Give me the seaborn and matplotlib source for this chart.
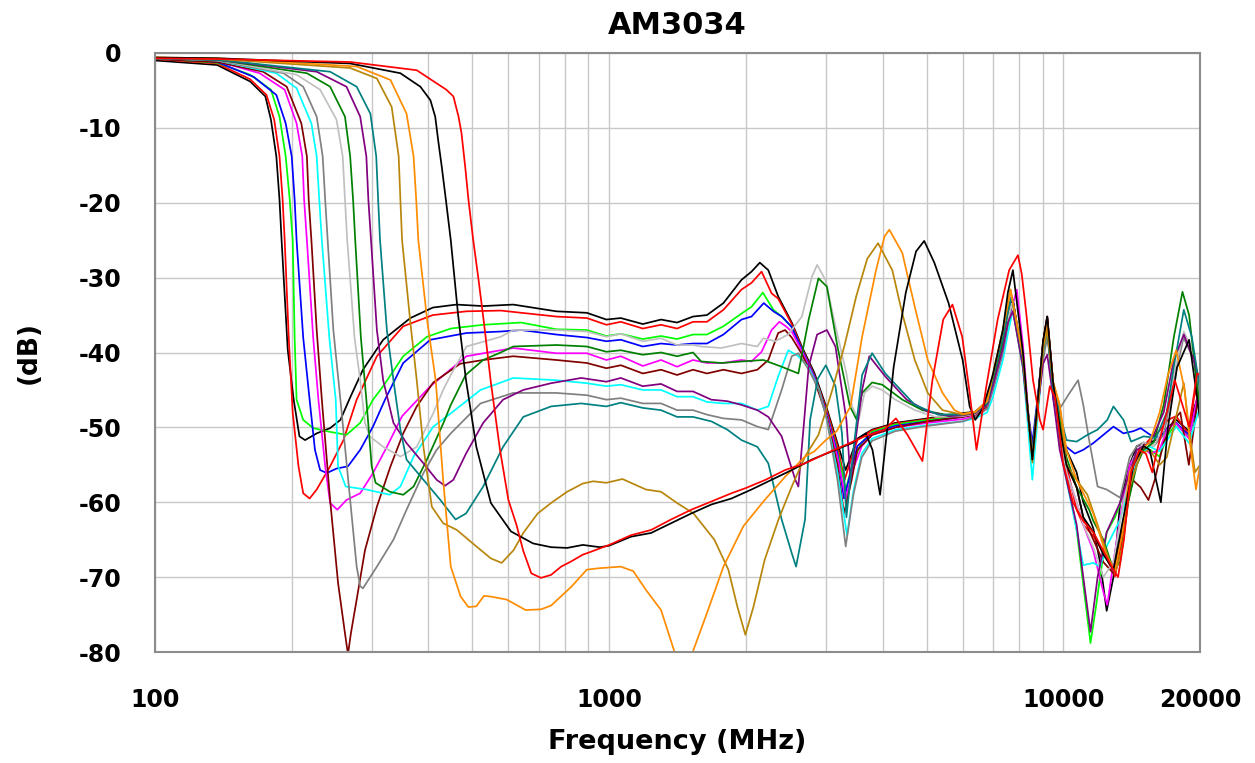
import matplotlib
matplotlib.use("Agg")
import matplotlib.pyplot as plt
import pandas as pd
import seaborn as sns
from matplotlib.ticker import FixedLocator, FixedFormatter, NullFormatter

# ---------------- text / ticks ----------------
title = "AM3034"
x_label = "Frequency (MHz)"
y_label = "(dB)"
x_major_ticks = [100, 1000, 10000, 20000]
x_major_labels = ["100", "1000", "10000", "20000"]
x_minor_ticks = [200, 300, 400, 500, 600, 700, 800, 900,
                 2000, 3000, 4000, 5000, 6000, 7000, 8000, 9000]
y_ticks = [0, -10, -20, -30, -40, -50, -60, -70, -80]
y_tick_labels = ["0", "-10", "-20", "-30", "-40", "-50", "-60", "-70", "-80"]

curve_names = ["k190", "r193", "lime201", "blue205", "mag215", "maroon221", "cyan233",
               "gray240", "silver265", "green276", "purple299", "teal313",
               "gold350", "orange380", "k446", "r502"]
curve_colors = ["#000000", "#ff0000", "#00ff00", "#0000ff", "#ff00ff", "#800000", "#00ffff",
                "#808080", "#c0c0c0", "#008000", "#800080", "#008080",
                "#b8860b", "#ff8c00", "#000000", "#ff0000"]

# ---------------- series: (MHz, dB) ----------------
k190 = [(100,-1.0),(137,-1.6),(162,-3.8),(175,-5.8),(180,-8.9),(185,-13.8),(188,-19.6),(190,-25),
        (196,-39.6),(202,-46.3),(208,-51.2),(214,-51.7),(227,-50.8),(243,-50.1),(256,-49),(269,-46),
        (287,-42.3),(318,-38.3),(365,-35.4),(409,-34.0),(461,-33.6),(528,-33.8),(615,-33.6),(765,-34.5),
        (893,-34.7),(986,-35.6),(1061,-35.4),(1186,-36.2),(1301,-35.6),(1411,-36.0),(1530,-35.2),
        (1642,-35.0),(1785,-33.4),(1956,-30.3),(2058,-29.2),(2147,-28.0),(2241,-29.0),(2356,-32.5),
        (2524,-36.0),(2656,-39.2),(2830,-42.7),(3016,-47.5),(3182,-52.1),(3318,-55.7),(3520,-51.5),
        (3794,-50.3),(4270,-49.4),(5030,-48.8),(6003,-48.1),(6400,-47.9),(6800,-46.5),(6995,-44),
        (7361,-39),(7550,-35.5),(7746,-33.0),(8151,-41.4),(8362,-48.1),(8548,-54.3),(8800,-45.9),
        (9025,-38.7),(9218,-35.2),(9497,-44),(9820,-50),(10160,-53),(10700,-56),(11066,-60),
        (11645,-63.5),(12050,-68),(12460,-74.5),(12895,-70),(13345,-60),(14000,-55),(14520,-52.5),
        (15540,-52),(16280,-51.5),(17000,-50),(17730,-49),(18925,-50.5),(19400,-47.5),(20000,-45)]

r193 = [(100,-0.8),(137,-1.4),(162,-3.5),(176,-5.6),(183,-8.9),(188,-13.8),(191,-19.6),(193,-25),
        (197,-38),(201,-48),(207,-55.2),(212,-58.8),(219,-59.5),(227,-58.3),(243,-55.2),(260,-51.7),
        (278,-46.3),(308,-40.5),(352,-36.5),(409,-35),(485,-34.5),(577,-34.4),(765,-35.2),(893,-35.4),
        (986,-36.3),(1061,-35.9),(1186,-36.8),(1301,-36.3),(1411,-36.8),(1530,-35.9),(1642,-35.9),
        (1785,-34.3),(1956,-31.6),(2058,-30.7),(2166,-29.2),(2279,-32.1),(2356,-32.8),(2524,-36.2),
        (2656,-39.4),(2830,-43),(3016,-47.8),(3182,-52.5),(3300,-57),(3420,-54),(3520,-51.7),
        (3794,-50.4),(4270,-49.5),(5030,-48.9),(6003,-48.3),(6400,-48),(6800,-46.7),(6995,-44.2),
        (7361,-39.2),(7550,-35.5),(7746,-33.2),(8151,-41.5),(8362,-48.5),(8548,-53.5),(8800,-46),
        (9025,-39),(9218,-35.5),(9497,-44),(9820,-50),(10160,-55),(10700,-61),(11066,-63),
        (11645,-64.5),(12050,-66),(12460,-67.5),(13000,-69.9),(13569,-64),(14000,-58),(14520,-54),
        (15025,-52.5),(15540,-51.5),(16280,-50.5),(17000,-49),(17730,-48.5),(18425,-50),(18925,-51),
        (19400,-46),(20000,-43.5)]

lime201 = [(100,-0.7),(137,-1.3),(162,-2.9),(180,-4.9),(188,-8.5),(194,-13.8),(198,-19.6),(201,-25),
           (203,-38),(205,-46.3),(212,-49),(223,-50.1),(243,-50.6),(264,-51),(283,-49.4),(302,-46.3),
           (318,-44.5),(352,-40.5),(397,-37.9),(448,-36.8),(528,-36.3),(640,-36),(765,-36.9),(893,-37),
           (986,-37.8),(1061,-37.5),(1186,-38.2),(1301,-37.8),(1411,-38.2),(1530,-37.6),(1642,-37.6),
           (1785,-36.5),(1956,-34.8),(2058,-33.9),(2180,-32.0),(2300,-34.3),(2400,-35.2),(2524,-36.6),
           (2656,-39.6),(2830,-43.2),(3016,-48.2),(3182,-53.2),(3318,-58.3),(3450,-54.5),(3600,-52),
           (3794,-50.6),(4270,-49.6),(5030,-49),(6003,-48.5),(6400,-48.2),(6800,-47.2),(6995,-45),
           (7361,-40),(7550,-36.5),(7746,-34.1),(8151,-42),(8362,-49),(8548,-54),(8800,-47),(9025,-40),
           (9218,-36.7),(9497,-45),(9820,-51),(10160,-56),(10700,-63.7),(11066,-71),(11480,-78.8),
           (11800,-74),(12050,-70),(12460,-64),(13000,-62),(13569,-59),(14000,-56),(14520,-53.5),
           (15540,-53),(16280,-53.9),(17000,-51),(17730,-49.5),(18925,-51.4),(20000,-45.5)]

blue205 = [(100,-0.7),(137,-1.2),(165,-3.2),(185,-5.6),(194,-9.4),(200,-13.8),(203,-19.6),(205,-25),
           (212,-38),(219,-46.3),(225,-53),(231,-55.7),(239,-56.1),(251,-55.5),(266,-55.2),(283,-53),
           (302,-49.9),(321,-46.3),(352,-41.4),(404,-38.3),(485,-37.4),(577,-37.2),(640,-37),(765,-37.6),
           (893,-38),(986,-38.5),(1061,-38.3),(1186,-39.2),(1301,-38.8),(1411,-39),(1530,-38.8),
           (1642,-38.8),(1785,-37.6),(1956,-35.6),(2058,-35.2),(2190,-33.4),(2300,-34.5),(2400,-35.2),
           (2524,-36.6),(2656,-39.6),(2830,-43.2),(3016,-48.2),(3182,-53.5),(3290,-59.5),(3420,-55.5),
           (3520,-52.5),(3794,-50.8),(4270,-49.8),(5030,-49.2),(6003,-48.6),(6400,-48.2),(6800,-47),
           (6995,-44.5),(7361,-39.5),(7550,-35.5),(7746,-33),(8151,-41.5),(8362,-48),(8548,-52.1),
           (8800,-45.5),(9025,-39),(9218,-36),(9497,-46),(9820,-51),(10160,-52.6),(10600,-53.5),
           (11066,-53),(11645,-52.1),(12254,-51),(12895,-49.9),(13569,-50.8),(14279,-50.5),
           (14800,-50.1),(15540,-51),(16280,-51.4),(17000,-50),(17730,-49.4),(18500,-50.5),
           (18925,-51),(20000,-45.4)]

mag215 = [(100,-0.7),(137,-1.1),(170,-2.7),(193,-4.9),(205,-9.4),(211,-13.8),(213,-19.6),(216,-25),
          (223,-38),(229,-46.3),(237,-55.2),(243,-60.1),(252,-61),(264,-59.7),(283,-58.8),(302,-56.1),
          (324,-52.6),(350,-48.5),(404,-44.5),(485,-40.5),(577,-39.7),(615,-39.4),(765,-40.1),
          (893,-40.1),(986,-41),(1061,-40.5),(1186,-41.8),(1301,-41),(1411,-41.9),(1530,-41),
          (1642,-41.4),(1785,-41.4),(1956,-41),(2058,-41.2),(2166,-39.9),(2279,-37),(2370,-35.9),
          (2450,-36.5),(2524,-37.2),(2656,-39.8),(2830,-43.4),(3016,-48.4),(3182,-54),(3318,-59.5),
          (3450,-55.5),(3600,-52.5),(3794,-51),(4270,-50),(5030,-49.4),(6003,-48.9),(6400,-48.5),
          (6800,-47.5),(6995,-45),(7361,-40),(7550,-36),(7900,-31.6),(8151,-39),(8362,-47.5),
          (8548,-53.5),(8800,-46),(9025,-39),(9218,-36),(9497,-45),(9820,-50),(10160,-56),(10700,-60),
          (11066,-63),(11645,-66.5),(12254,-72),(12500,-73.7),(12895,-68),(13345,-62),(14000,-55),
          (14800,-52.5),(15540,-53.5),(16280,-53),(17000,-50),(17730,-49.5),(18925,-51.5),(20000,-44)]

maroon221 = [(100,-0.8),(137,-1.2),(173,-2.5),(195,-4.5),(210,-9.4),(216,-13.8),(218,-19.6),(221,-25),
             (227,-37),(233,-46.3),(243,-59.7),(253,-70.8),(262,-77.5),(266,-80.3),(270,-77.5),
             (278,-73),(290,-66.4),(308,-60.6),(330,-55.2),(352,-50.8),(377,-47.2),(410,-44),
             (470,-41.5),(528,-41),(615,-40.5),(765,-41),(893,-41.4),(986,-42.1),(1061,-41.7),
             (1186,-42.8),(1301,-42.3),(1411,-43),(1530,-42.3),(1642,-42.8),(1785,-42.3),(1956,-42.8),
             (2120,-42.3),(2241,-41),(2356,-37.4),(2440,-37),(2524,-38),(2656,-40.2),(2830,-43.6),
             (3016,-48.6),(3182,-55),(3290,-61.5),(3420,-57),(3520,-53),(3794,-51),(4270,-50),
             (5030,-49.2),(6003,-48.6),(6400,-48.3),(6800,-47.2),(6995,-44.5),(7361,-39.5),(7550,-35.5),
             (7746,-33.2),(8151,-41),(8362,-48),(8548,-54),(8800,-46),(9025,-38.5),(9218,-35.2),
             (9497,-44),(9820,-50),(10160,-55),(10700,-58),(11066,-62),(11645,-65),(12254,-68),
             (12900,-69.5),(13569,-63),(14200,-57),(14800,-58),(15400,-59.7),(15900,-57),(16638,-52),
             (17508,-49),(18100,-48),(18900,-55),(19400,-50),(20000,-44)]

cyan233 = [(100,-0.7),(137,-1.0),(185,-2.7),(205,-4.7),(221,-9.4),(227,-13.8),(230,-19.6),(233,-25),
           (242,-38),(250,-46.3),(253,-55.2),(263,-57.9),(292,-58.3),(329,-59),(347,-57.9),(371,-53.9),
           (410,-49.9),(440,-48.5),(521,-45),(615,-43.4),(765,-43.7),(893,-44.1),(986,-44.5),
           (1061,-44.3),(1186,-45),(1301,-45),(1411,-45.9),(1530,-45.9),(1642,-46.6),(1785,-46.8),
           (1956,-46.8),(2120,-47.7),(2241,-47.2),(2356,-43.2),(2480,-39.7),(2610,-40.5),(2750,-42),
           (2900,-45),(3016,-49),(3182,-56),(3340,-64.4),(3450,-58.5),(3600,-53.5),(3794,-51.5),
           (4270,-50.3),(5030,-49.7),(6003,-49.2),(6400,-48.8),(6800,-48),(6995,-46),(7361,-41),
           (7550,-37.5),(7746,-34.3),(8151,-42),(8362,-50),(8548,-57),(8800,-48),(9025,-40.5),
           (9218,-36.5),(9497,-45),(9820,-52),(10160,-57),(10700,-63.7),(11066,-68.4),(11645,-68.1),
           (12050,-68.6),(12460,-65.9),(13345,-62.3),(14520,-53.9),(15540,-52.6),(16280,-53.2),
           (17730,-49.9),(18925,-52.1),(20000,-47.2)]

gray240 = [(100,-0.7),(137,-1.0),(192,-2.7),(212,-4.5),(227,-8.5),(234,-13.8),(237,-19.6),(240,-25),
           (247,-37),(256,-46.3),(269,-59.7),(278,-68.6),(283,-71.2),(287,-71.5),(308,-68.6),(335,-65),
           (358,-61),(390,-56.1),(417,-53),(448,-50.8),(521,-46.8),(615,-45.4),(765,-45.4),(893,-45.7),
           (986,-46.3),(1061,-46.1),(1186,-46.8),(1301,-46.8),(1411,-47.7),(1530,-47.7),(1642,-48.3),
           (1785,-48.8),(1956,-49),(2120,-49.9),(2241,-50.3),(2398,-45),(2524,-40.5),(2610,-40.1),
           (2750,-42.3),(2900,-45),(3016,-49),(3182,-57),(3318,-65.9),(3450,-59),(3600,-54),
           (3794,-51.8),(4270,-50.5),(5030,-49.8),(6003,-49.2),(6400,-48.6),(6800,-47.5),(6995,-45),
           (7361,-40),(7550,-36),(7700,-33.5),(8151,-41.5),(8362,-48.5),(8548,-54),(8800,-47),
           (9025,-41),(9218,-38),(9497,-44),(9820,-47.5),(10300,-45.5),(10780,-43.7),(11066,-47),
           (11400,-51.7),(11900,-57.9),(12460,-58.3),(13345,-59.4),(14000,-54),(14520,-52.5),
           (15025,-52),(15811,-52.5),(16638,-51),(17508,-44),(18400,-38),(19386,-41),(20000,-46)]

silver265 = [(100,-0.7),(137,-0.9),(205,-2.9),(231,-4.9),(251,-8.9),(259,-13.8),(262,-19.6),(265,-25),
             (275,-38),(283,-43.7),(290,-49.4),(297,-51.2),(318,-52.6),(347,-53.9),(377,-52.6),
             (410,-48.1),(431,-45),(448,-43),(485,-39.2),(577,-37.9),(615,-37),(765,-37),(893,-37.2),
             (986,-37.9),(1061,-37.5),(1186,-38.5),(1301,-38.1),(1411,-39),(1530,-39),(1595,-39.2),
             (1767,-39.4),(1956,-38.8),(2120,-39.2),(2185,-38.1),(2320,-38.5),(2480,-37.6),(2656,-35.2),
             (2795,-29.9),(2870,-28.3),(2995,-30.3),(3150,-36.5),(3330,-42.8),(3427,-47.2),(3545,-49),
             (3650,-45.4),(3794,-44.5),(3993,-45),(4270,-46.3),(4710,-47.7),(5230,-48.6),(6003,-48.5),
             (6400,-48.2),(6800,-47),(6995,-44.5),(7361,-39.5),(7550,-35.5),(7700,-33.5),(8151,-41),
             (8362,-48.5),(8548,-54),(8800,-46),(9025,-39),(9218,-37),(9497,-44),(9820,-50),
             (10160,-56),(10700,-60),(11066,-63),(11645,-66),(12250,-70),(12895,-68),(13569,-60),
             (14279,-54),(15025,-52),(15811,-52.5),(16638,-50),(17508,-43),(18423,-37.2),(19386,-40),
             (20000,-45)]

green276 = [(100,-0.7),(137,-0.9),(216,-2.7),(243,-4.5),(262,-8.5),(269,-13.8),(273,-19.6),(276,-25),
            (284,-38),(292,-46.3),(300,-55.2),(306,-57.4),(329,-58.6),(352,-59),(371,-57.9),
            (397,-54.3),(431,-49.5),(448,-47),(483,-43),(528,-41),(577,-40),(615,-39.2),(765,-39),
            (893,-39.2),(986,-39.9),(1061,-39.7),(1186,-40.3),(1301,-40),(1411,-40.5),(1530,-40),
            (1595,-41.2),(1767,-41.4),(1956,-41.2),(2185,-41),(2398,-41.9),(2610,-42.8),(2750,-35.6),
            (2890,-30.1),(3016,-31.2),(3182,-39.2),(3390,-47.2),(3510,-49),(3606,-45.4),(3794,-44),
            (3993,-44.3),(4421,-46.3),(4896,-47.7),(5500,-48.3),(6003,-48.2),(6400,-48),(6800,-46.8),
            (6995,-44),(7361,-38.5),(7550,-34.5),(7700,-32.5),(8151,-41),(8362,-48),(8548,-53.5),
            (8800,-46),(9025,-39.5),(9218,-36.7),(9497,-45),(9820,-49),(10160,-54),(10700,-58),
            (11400,-61),(11645,-62.5),(12254,-65),(12895,-69),(13345,-68),(13900,-60),(14520,-55),
            (15025,-53),(15811,-52),(16638,-47),(17508,-38),(18300,-31.9),(18925,-35),(19500,-42),
            (20000,-48)]

purple299 = [(100,-0.7),(137,-0.9),(227,-2.5),(264,-4.5),(283,-8.5),(292,-13.8),(295,-19.6),(299,-25),
             (308,-37),(318,-43.7),(335,-49.4),(358,-52.1),(390,-54.8),(417,-57),(435,-57.8),(454,-57),
             (484,-53.5),(528,-49.4),(584,-46.3),(647,-45),(745,-44.1),(868,-43.4),(986,-43.9),
             (1061,-43.4),(1186,-44.5),(1301,-44.2),(1411,-45.2),(1530,-45.2),(1679,-46.3),(1820,-46.5),
             (1956,-47),(2120,-47.7),(2241,-48.6),(2398,-51.2),(2570,-57),(2610,-57.9),(2680,-50),
             (2750,-41.9),(2870,-37.6),(3016,-37),(3150,-39.2),(3330,-49),(3400,-57),(3500,-51),
             (3606,-45),(3740,-40.5),(4056,-43.2),(4520,-46.3),(5030,-47.9),(5600,-48.5),(6003,-48.4),
             (6400,-48.1),(6800,-47),(6995,-44.5),(7361,-39.5),(7550,-36),(7746,-34.5),(8151,-42),
             (8362,-48.5),(8548,-53.5),(8800,-47),(9025,-41.5),(9218,-40.3),(9497,-46),(9820,-53),
             (10700,-63),(11066,-70),(11480,-77.3),(11900,-70),(12460,-64),(13345,-60),(14000,-56),
             (14520,-53),(15540,-52),(16638,-48),(17508,-41),(18423,-37.6),(19386,-41),(20000,-44)]

teal313 = [(100,-0.7),(137,-0.9),(243,-2.5),(278,-4.5),(298,-8.1),(307,-13.8),(310,-19.6),(313,-25),
           (324,-37),(335,-43.7),(347,-50.3),(358,-54.3),(390,-57),(425,-59.7),(459,-62.3),(484,-61.5),
           (528,-57.9),(584,-52.6),(647,-48.6),(745,-47.2),(868,-46.8),(986,-47.2),(1061,-46.7),
           (1186,-47.4),(1301,-47.7),(1411,-48.6),(1530,-48.6),(1679,-49.2),(1820,-50.3),(1956,-51.7),
           (2120,-52.6),(2241,-54.8),(2398,-62.3),(2524,-66.8),(2580,-68.6),(2700,-62.3),(2770,-49),
           (2880,-43.5),(3000,-41.7),(3150,-44.5),(3256,-50.8),(3330,-62),(3450,-53),(3606,-43),
           (3794,-40.1),(4056,-42.8),(4710,-47),(5300,-48.3),(6003,-48.3),(6400,-48),(6800,-46.8),
           (6995,-43.5),(7361,-38),(7550,-34.5),(7700,-32.5),(8151,-41),(8362,-48),(8548,-53.5),
           (8800,-46),(9025,-39.5),(9218,-37),(9497,-45),(9820,-48.1),(10160,-51.7),(10700,-51.9),
           (11300,-51),(11900,-50.3),(12500,-49),(12895,-47.2),(13569,-49),(14100,-51.9),(15025,-51.2),
           (16000,-51.4),(16900,-48),(17500,-42),(18423,-34.3),(19200,-38),(20000,-45)]

gold350 = [(100,-0.6),(137,-0.8),(269,-2.0),(308,-3.4),(332,-7.2),(344,-13.8),(347,-19.6),(350,-25),
           (365,-36),(377,-43.7),(390,-52.6),(407,-60.6),(431,-62.8),(462,-63.7),(510,-65.9),
           (549,-67.5),(580,-68.1),(616,-66.4),(647,-64.1),(696,-61.5),(745,-60.1),(808,-58.6),
           (875,-57.5),(922,-57.2),(986,-57.4),(1070,-56.9),(1145,-57.7),(1205,-58.3),(1301,-58.6),
           (1411,-60.1),(1534,-61.5),(1705,-65),(1830,-69),(1915,-73.9),(1995,-77.7),(2080,-73.9),
           (2200,-67.7),(2360,-62.3),(2524,-57.9),(2700,-53.9),(2890,-51),(3100,-45),(3300,-39),
           (3500,-32.5),(3700,-27.5),(3910,-25.4),(4202,-29),(4421,-34.8),(4710,-41),(5030,-45.4),
           (5421,-47.7),(6003,-48.3),(6400,-48),(6800,-46.5),(6995,-43),(7361,-37),(7550,-33.5),
           (7650,-31.6),(8151,-40.5),(8362,-48),(8548,-54.7),(8800,-47),(9025,-39.5),(9218,-37),
           (9497,-44),(9820,-47),(10160,-55),(10700,-57),(11300,-59),(11900,-63),(12500,-67),
           (13000,-69.5),(13500,-66),(14000,-58),(14800,-53.5),(15500,-53),(16300,-55),(16900,-54),
           (17500,-50),(18423,-44.1),(18900,-50),(19500,-56),(20000,-55)]

orange380 = [(100,-0.6),(137,-0.7),(278,-1.8),(330,-3.6),(358,-8.1),(371,-13.8),(376,-19.6),(380,-25),
             (398,-36),(415,-43.7),(431,-57),(448,-68.6),(471,-72.6),(490,-74),(510,-73.9),(530,-72.5),
             (549,-72.6),(595,-73),(655,-74.4),(708,-74.3),(745,-73.8),(825,-71.3),(893,-69),(954,-68.8),
             (1061,-68.6),(1130,-69.2),(1205,-71.7),(1301,-74.4),(1388,-79.7),(1460,-84),(1534,-79.7),
             (1642,-74.8),(1785,-68.6),(1975,-63.2),(2200,-59.7),(2440,-56.6),(2700,-53.9),(2830,-53.2),
             (3000,-51.7),(3170,-50.5),(3400,-47.2),(3606,-37.9),(3870,-29),(4040,-24.5),(4140,-23.6),
             (4421,-26.7),(4710,-33.9),(5030,-41),(5421,-45.4),(5760,-47.7),(6003,-48.2),(6400,-47.9),
             (6800,-46.5),(6995,-43),(7361,-37),(7550,-33.5),(7650,-31.6),(8151,-40.5),(8362,-48),
             (8548,-54),(8800,-46.5),(9025,-39),(9218,-36),(9497,-44),(9820,-47),(10160,-53),
             (10700,-57),(11645,-61.5),(12460,-67.3),(13000,-69),(13500,-64),(14000,-56),(14800,-53),
             (15500,-52),(16300,-48),(17000,-43),(17730,-39.7),(18500,-45),(19000,-52),(19600,-58.3),
             (20000,-55)]

k446 = [(100,-0.6),(137,-0.7),(269,-1.4),(347,-2.7),(384,-4.5),(404,-6.3),(414,-8.5),(421,-12),
        (428,-15.2),(437,-19.6),(448,-25),(465,-35),(484,-43.7),(510,-52.6),(549,-60.1),(608,-63.9),
        (680,-65.5),(745,-66),(808,-66.1),(875,-65.7),(954,-66),(1000,-65.8),(1117,-64.6),(1237,-64.1),
        (1369,-62.8),(1516,-61.5),(1679,-60.3),(1859,-59.5),(2058,-58.3),(2279,-57),(2524,-55.7),
        (2795,-54.3),(3094,-53.2),(3427,-52.1),(3674,-50.8),(3800,-53),(3950,-59),(4100,-50),
        (4230,-42),(4500,-32),(4740,-26.5),(4940,-25.1),(5200,-28),(5590,-33.4),(6003,-41),
        (6220,-47.2),(6400,-49),(6647,-47.5),(6995,-43),(7361,-37),(7550,-32),(7746,-29),(8151,-40),
        (8362,-48),(8548,-54.3),(8800,-46),(9025,-38.5),(9218,-35.2),(9497,-44),(9820,-50),
        (10160,-55),(10700,-58),(11066,-62),(11645,-64),(12254,-67),(12895,-69),(13569,-62),
        (14279,-55),(15025,-52.5),(15500,-53),(16000,-57),(16400,-60),(17000,-50),(17800,-42),
        (18925,-38.3),(19600,-45),(20000,-49)]

r502 = [(100,-0.7),(137,-0.8),(269,-1.2),(377,-2.3),(438,-4.9),(454,-5.8),(466,-8.5),(473,-10.7),
        (482,-15.2),(490,-19.6),(502,-25),(515,-30),(530,-36),(549,-44),(575,-53),(600,-59.7),
        (625,-63),(647,-66.5),(674,-69.5),(708,-70.1),(745,-69.7),(784,-68.6),(825,-67.9),(875,-67),
        (913,-66.6),(1000,-65.7),(1117,-64.4),(1237,-63.7),(1369,-62.3),(1516,-61),(1679,-59.9),
        (1859,-58.8),(2000,-58.1),(2210,-57),(2440,-55.7),(2700,-54.8),(3000,-53.5),(3330,-52.3),
        (3650,-51.2),(4040,-50.3),(4280,-48.8),(4540,-51),(4896,-54.5),(5150,-43.7),(5440,-35.6),
        (5700,-33.6),(5990,-37.9),(6220,-45.4),(6440,-53),(6770,-44.5),(7170,-35.6),(7600,-29),
        (7946,-27),(8100,-29.5),(8290,-34.8),(8577,-43.7),(8880,-49),(9025,-50.3),(9340,-44.5),
        (9580,-45.9),(9994,-54.8),(10500,-60),(11066,-62.5),(11645,-64),(12254,-66.5),(12895,-69),
        (13200,-70),(13600,-65),(14100,-56),(14700,-53),(15200,-53.5),(15700,-56),(16100,-53),
        (16900,-48),(17600,-43.7),(18300,-47),(18925,-49.9),(19700,-42.8),(20000,-43)]

# ---------------- build table ----------------
series_lists = [k190, r193, lime201, blue205, mag215, maroon221, cyan233, gray240,
                silver265, green276, purple299, teal313, gold350, orange380, k446, r502]
rows = []
for name, pts in zip(curve_names, series_lists):
    for i, (f, v) in enumerate(pts):
        rows.append({"curve": name, "freq": f, "db": v, "order": i})
df = pd.DataFrame(rows)

# ---------------- plot ----------------
sns.set_theme(style="white")
plt.rcParams["font.family"] = ["DejaVu Sans"]
plt.rcParams["axes.unicode_minus"] = False
plt.rcParams["text.color"] = "black"
plt.rcParams["axes.labelcolor"] = "black"
plt.rcParams["xtick.color"] = "black"
plt.rcParams["ytick.color"] = "black"

fig = plt.figure(figsize=(12.55, 7.63), dpi=100)
ax = fig.add_axes([155 / 1255, 1 - 652 / 763, 1045 / 1255, 599 / 763])

sns.lineplot(data=df, x="freq", y="db", hue="curve", hue_order=curve_names,
             palette=dict(zip(curve_names, curve_colors)), estimator=None, sort=False,
             legend=False, linewidth=1.25, ax=ax)

ax.set_xscale("log")
ax.set_xlim(100, 20000)
ax.set_ylim(-80, 0)

ax.xaxis.set_major_locator(FixedLocator(x_major_ticks))
ax.xaxis.set_major_formatter(FixedFormatter(x_major_labels))
ax.xaxis.set_minor_locator(FixedLocator(x_minor_ticks))
ax.xaxis.set_minor_formatter(NullFormatter())
ax.set_yticks(y_ticks)
ax.set_yticklabels(y_tick_labels)

ax.set_axisbelow(True)
ax.grid(True, which="major", axis="both", color="#c8c8c8", linewidth=1.0)
ax.grid(True, which="minor", axis="x", color="#c8c8c8", linewidth=1.0)

ax.tick_params(axis="both", which="both", length=0, colors="black")
ax.tick_params(axis="y", pad=24, labelsize=17)
ax.tick_params(axis="x", pad=26, labelsize=17)
for lab in ax.get_xticklabels() + ax.get_yticklabels():
    lab.set_fontweight("bold")
    lab.set_color("black")

for sp in ax.spines.values():
    sp.set_color("#8c8c8c")
    sp.set_linewidth(1.5)

ax.set_title(title, fontsize=22, fontweight="bold", pad=14, color="black")
ax.set_xlabel(x_label, fontsize=19.5, fontweight="bold", color="black")
ax.set_ylabel(y_label, fontsize=19, fontweight="bold", color="black")
ax.xaxis.set_label_coords(0.5, -0.128)
ax.yaxis.set_label_coords(-0.108, 0.5)

fig.savefig("out.png", dpi=100)
